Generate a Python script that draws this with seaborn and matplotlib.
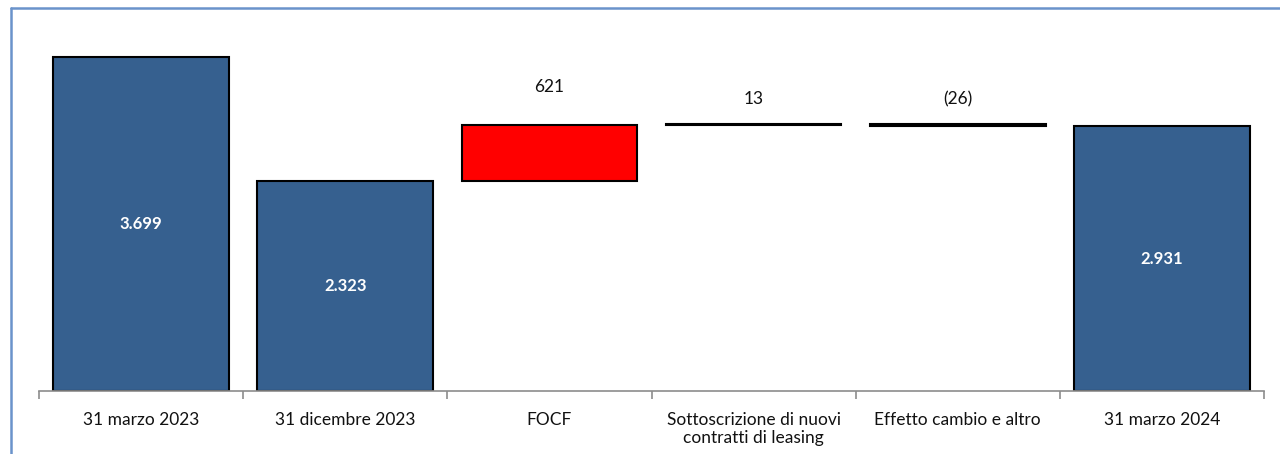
import matplotlib.pyplot as plt
import seaborn as sns
from matplotlib.lines import Line2D

sns.set_style("white")
plt.rcParams["font.family"] = ["Lato", "DejaVu Sans"]

categories = [
    "31 marzo 2023",
    "31 dicembre 2023",
    "FOCF",
    "Sottoscrizione di nuovi\ncontratti di leasing",
    "Effetto cambio e altro",
    "31 marzo 2024",
]
values = [3699, 2323, 621, 13, -26, 2931]
is_total = [True, True, False, False, False, True]

bar_colors = ["#36608F", "#36608F", "#FF0000", "#000000", "#7A0000", "#36608F"]


def fmt_total(v):
    return f"{v:,}".replace(",", ".")


def fmt_delta(v):
    return f"({abs(v)})" if v < 0 else f"{v}"


# floating bar geometry for the waterfall
bottoms = []
heights = []
level = 0
for v, tot in zip(values, is_total):
    if tot:
        bottoms.append(0)
        heights.append(v)
        level = v
    else:
        bottoms.append(min(level, level + v))
        heights.append(abs(v))
        level += v

fig = plt.figure(figsize=(12.8, 4.54), dpi=100)
ax = fig.add_axes([0.0305, 0.139, 0.957, 0.815])

sns.barplot(
    x=categories,
    y=heights,
    hue=categories,
    palette=bar_colors,
    saturation=1,
    legend=False,
    width=0.86,
    edgecolor="black",
    linewidth=1.5,
    ax=ax,
)

for patch, b in zip(ax.patches, bottoms):
    patch.set_y(b)

ax.set_ylim(0, 4100)
ax.set_xlim(-0.5, len(categories) - 0.5)
ax.set_yticks([])
ax.set_ylabel("")

for s in ["top", "right", "left"]:
    ax.spines[s].set_visible(False)
ax.spines["bottom"].set_color("#8C8C8C")
ax.spines["bottom"].set_linewidth(1.2)

ax.set_xticks(range(len(categories)))
ax.set_xticklabels(categories, fontsize=12.5, color="#111111")
ax.tick_params(axis="x", which="major", length=0, pad=15)
ax.set_xticks([i - 0.5 for i in range(len(categories) + 1)], minor=True)
ax.tick_params(axis="x", which="minor", bottom=True, direction="out",
               length=6, width=1.2, color="#8C8C8C")

label_offsets = {2: 22, 3: 12, 4: 12}
for i, (v, tot) in enumerate(zip(values, is_total)):
    if tot:
        ax.text(i, v / 2, fmt_total(v), ha="center", va="center",
                color="white", fontsize=12, fontweight="bold")
    else:
        top = bottoms[i] + heights[i]
        ax.annotate(fmt_delta(v), (i, top), xytext=(0, label_offsets[i]),
                    textcoords="offset points", ha="center", va="bottom",
                    fontsize=12.5, color="#111111")

# chart frame (only top and left edges visible in the crop)
fx = 10.5 / 1280
fy = 1 - 8 / 454
fig.add_artist(Line2D([fx, 1], [fy, fy], transform=fig.transFigure,
                      color="#6A93CB", linewidth=1.8))
fig.add_artist(Line2D([fx, fx], [0, fy], transform=fig.transFigure,
                      color="#6A93CB", linewidth=1.8))

fig.savefig("out.png", dpi=100, facecolor="white")
plt.close(fig)
